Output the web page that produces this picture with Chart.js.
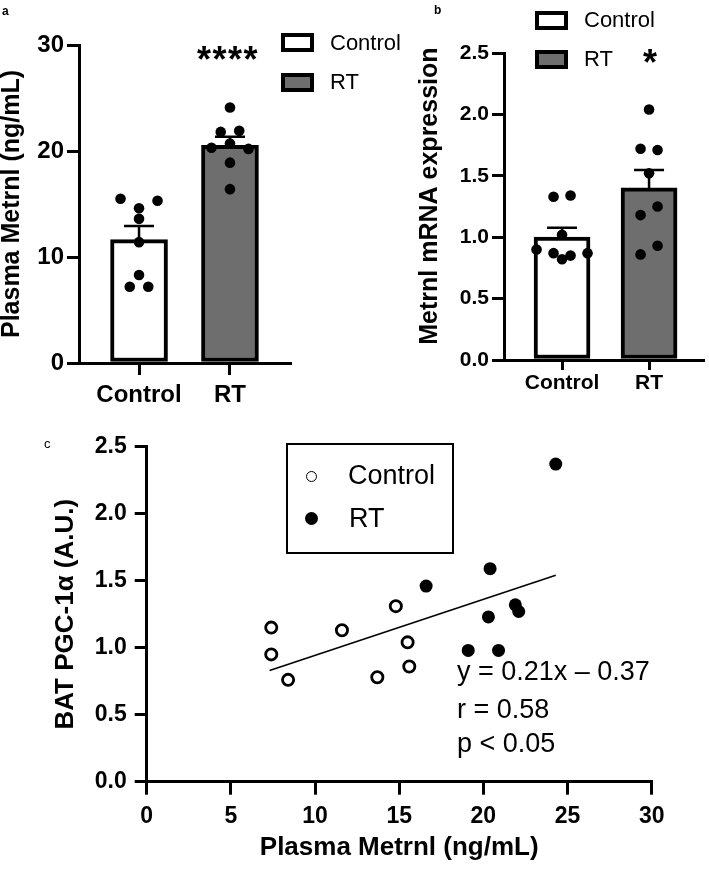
<!DOCTYPE html>
<html>
<head>
<meta charset="utf-8">
<script src="https://cdn.jsdelivr.net/npm/chart.js@4.4.1/dist/chart.umd.min.js"></script>
<style>
  body { margin: 0; width: 709px; height: 869px; position: relative; background: #fff; overflow: hidden;
         font-family: 'Liberation Sans', Arial, sans-serif; color: #000; }
  canvas { position: absolute; }
  .t { position: absolute; line-height: 1; white-space: nowrap; }
  .key { position: absolute; box-sizing: border-box; border: 4px solid #000; width: 33px; height: 19px; }
  .legend-c { position: absolute; box-sizing: border-box; border: 2.5px solid #000; left: 286px; top: 443px; width: 168px; height: 111px; }
  .dot { position: absolute; box-sizing: border-box; border-radius: 50%; }
</style>
</head>
<body>
<canvas id="chartA" width="355" height="410" style="left:0;top:0;width:355px;height:410px"></canvas>
<canvas id="chartB" width="354" height="410" style="left:355px;top:0;width:354px;height:410px"></canvas>
<canvas id="chartC" width="709" height="449" style="left:0;top:420px;width:709px;height:449px"></canvas>

<!-- panel letters -->
<div class="t" style="left:2px;top:5px;font-size:12px;font-weight:bold">a</div>
<div class="t" style="left:434px;top:4px;font-size:12px;font-weight:bold">b</div>
<div class="t" style="left:44px;top:437px;font-size:13px">c</div>

<!-- legend a -->
<div class="key" style="left:281px;top:33px;background:#fff"></div>
<div class="t" style="left:330px;top:32px;font-size:22px">Control</div>
<div class="key" style="left:281px;top:73px;background:#6e6e6e"></div>
<div class="t" style="left:330px;top:71px;font-size:22px">RT</div>
<div class="t" style="left:197px;top:42px;font-size:36px;font-weight:bold;letter-spacing:1.5px">****</div>

<!-- legend b -->
<div class="key" style="left:535px;top:11px;background:#fff"></div>
<div class="t" style="left:584px;top:9px;font-size:22px">Control</div>
<div class="key" style="left:535px;top:50px;background:#6e6e6e"></div>
<div class="t" style="left:584px;top:48px;font-size:22px">RT</div>
<div class="t" style="left:643px;top:45px;font-size:36px;font-weight:bold">*</div>

<!-- legend c and regression text -->
<div class="legend-c"></div>
<div class="dot" style="left:306px;top:471px;width:11px;height:11px;border:1.5px solid #000;background:#fff"></div>
<div class="dot" style="left:305px;top:512px;width:13px;height:13px;background:#000"></div>
<div class="t" style="left:348px;top:462px;font-size:27px">Control</div>
<div class="t" style="left:349px;top:505px;font-size:27px">RT</div>
<div class="t" style="left:457px;top:658px;font-size:27px">y = 0.21x – 0.37</div>
<div class="t" style="left:457px;top:696px;font-size:27px">r = 0.58</div>
<div class="t" style="left:457px;top:730px;font-size:27px">p &lt; 0.05</div>

<script>
const groups = ['Control', 'RT'];

// a: plasma Metrnl (ng/mL), one value per animal
const plasmaControl = [15.5, 14.6, 15.3, 13.6, 11.4, 8.3, 7.2, 7.2];
const plasmaRT = [24.1, 21.8, 21.9, 20.3, 20.7, 20.2, 18.9, 16.4];
const plasmaTicks = [0, 10, 20, 30];

// b: Metrnl mRNA expression
const mrnaControl = [1.33, 1.34, 1.02, 0.90, 0.87, 0.85, 0.87, 0.82];
const mrnaRT = [2.04, 1.72, 1.71, 1.52, 1.18, 1.25, 0.86, 0.93];
const mrnaTicks = [0, 0.5, 1.0, 1.5, 2.0, 2.5];

// c: plasma Metrnl vs BAT PGC-1a
const corrControlX = [7.4, 7.4, 8.4, 11.6, 13.7, 14.8, 15.5, 15.6];
const corrControlY = [1.15, 0.95, 0.76, 1.13, 0.78, 1.31, 1.04, 0.86];
const corrRTX = [24.3, 20.4, 16.6, 21.9, 22.1, 20.3, 19.1, 20.9];
const corrRTY = [2.37, 1.59, 1.46, 1.32, 1.27, 1.23, 0.98, 0.98];
const fitX = [7.3, 24.3];
const fitY = [0.83, 1.54];
const corrXTicks = [0, 5, 10, 15, 20, 25, 30];
const corrYTicks = [0, 0.5, 1.0, 1.5, 2.0, 2.5];

Chart.defaults.font.family = "'Liberation Sans', Arial, sans-serif";
Chart.defaults.color = '#000';
Chart.defaults.animation = false;

const mean = a => a.reduce((s, v) => s + v, 0) / a.length;
const sem = a => {
    const m = mean(a);
    const sd = Math.sqrt(a.reduce((s, v) => s + (v - m) * (v - m), 0) / (a.length - 1));
    return sd / Math.sqrt(a.length);
};

// spread dots that sit at about the same height side by side
function swarm(values, yScale, gap, step) {
    const py = values.map(v => yScale.getPixelForValue(v));
    const order = values.map((v, i) => i).sort((a, b) => py[a] - py[b]);
    const off = values.map(() => 0);
    let row = [];
    const flush = () => {
        row.sort((a, b) => a - b);
        row.forEach((k, j) => { off[k] = (j - (row.length - 1) / 2) * step; });
        row = [];
    };
    order.forEach(i => {
        if (row.length && py[i] - py[row[0]] >= gap) flush();
        row.push(i);
    });
    flush();
    return off;
}

function axisLine(tickLength) {
    return {
        grid: { display: true, drawOnChartArea: false, drawTicks: true, tickLength: tickLength,
                tickWidth: 3, tickColor: '#000', color: '#000', lineWidth: 3, offset: false },
        border: { display: true, color: '#000', width: 3 }
    };
}

function errorBarPlugin(sets) {
    return {
        id: 'errorBars',
        afterDatasetDraw(chart, args) {
            if (args.index !== 0) return;
            const { ctx, scales: { x, y } } = chart;
            ctx.save();
            ctx.strokeStyle = '#000';
            ctx.lineWidth = 2.5;
            sets.forEach((vals, i) => {
                const px = x.getPixelForValue(i + 1);
                const y0 = y.getPixelForValue(mean(vals));
                const y1 = y.getPixelForValue(mean(vals) + sem(vals));
                ctx.beginPath();
                ctx.moveTo(px, y0);
                ctx.lineTo(px, y1);
                ctx.moveTo(px - 15, y1);
                ctx.lineTo(px + 15, y1);
                ctx.stroke();
            });
            ctx.restore();
        }
    };
}

// bar + dot panel (a and b)
function barPanel(id, c) {
    const sets = c.sets;
    const chart = new Chart(document.getElementById(id), {
        type: 'bar',
        data: {
            datasets: [{
                type: 'bar',
                data: sets.map((vals, i) => ({ x: i + 1, y: mean(vals) })),
                backgroundColor: ['#ffffff', '#6e6e6e'],
                borderColor: '#000',
                borderWidth: 4,
                borderSkipped: false,
                barThickness: c.barWidth,
                order: 2
            }].concat(sets.map((vals, i) => ({
                type: 'scatter',
                data: vals.map(v => ({ x: i + 1, y: v })),
                pointRadius: 5.3,
                pointBackgroundColor: '#000',
                pointBorderWidth: 0,
                order: 1
            })))
        },
        options: {
            responsive: false,
            layout: { padding: c.padding },
            plugins: { legend: { display: false }, tooltip: { enabled: false } },
            scales: {
                x: Object.assign(axisLine(c.xTick), {
                    type: 'linear', min: c.xRange[0], max: c.xRange[1], offset: false,
                    afterBuildTicks: s => { s.ticks = groups.map((g, i) => ({ value: i + 1 })); },
                    afterFit: s => { s.height = c.xHeight; },
                    ticks: { callback: v => groups[v - 1], padding: c.xPad, maxRotation: 0,
                             font: { size: c.labelSize, weight: 'bold' } }
                }),
                y: Object.assign(axisLine(12), {
                    min: c.ticks[0], max: c.ticks[c.ticks.length - 1],
                    afterBuildTicks: s => { s.ticks = c.ticks.map(v => ({ value: v })); },
                    afterFit: s => { s.width = c.yWidth; },
                    ticks: { callback: c.fmt, padding: 3, font: { size: c.labelSize, weight: 'bold' } },
                    title: { display: true, text: c.title, padding: { top: c.titlePad, bottom: 0 },
                             font: { size: 25, weight: 'bold' } }
                })
            }
        },
        plugins: [errorBarPlugin(sets)]
    });

    const xs = chart.scales.x;
    const unit = xs.getPixelForValue(1) - xs.getPixelForValue(0);
    sets.forEach((vals, i) => {
        const off = swarm(vals, chart.scales.y, 9.7, c.step);
        chart.data.datasets[i + 1].data = vals.map((v, k) => ({ x: i + 1 + off[k] / unit, y: v }));
    });
    chart.update('none');
    return chart;
}

barPanel('chartA', {
    sets: [plasmaControl, plasmaRT],
    ticks: plasmaTicks,
    fmt: v => String(v),
    title: 'Plasma Metrnl (ng/mL)',
    titlePad: -3,
    padding: { left: 0, top: 45, right: 65, bottom: 0 },
    yWidth: 79, xHeight: 47,
    xRange: [0.34, 2.66],
    xTick: 12, xPad: 6,
    labelSize: 24,
    barWidth: 57,
    step: 18.5
});

// leading spaces lift the rotated title a little, as in the original
barPanel('chartB', {
    sets: [mrnaControl, mrnaRT],
    ticks: mrnaTicks,
    fmt: v => v.toFixed(1),
    title: '   Metrnl mRNA expression',
    titlePad: 0,
    padding: { left: 60, top: 53, right: 6, bottom: 0 },
    yWidth: 89, xHeight: 50,
    xRange: [0.333, 2.62],
    xTick: 10, xPad: 1,
    labelSize: 21,
    barWidth: 56,
    step: 17
});

// correlation panel (c)
new Chart(document.getElementById('chartC'), {
    type: 'scatter',
    data: {
        datasets: [{
            type: 'line',
            data: fitX.map((x, i) => ({ x: x, y: fitY[i] })),
            borderColor: '#000',
            borderWidth: 1.6,
            pointRadius: 0,
            fill: false,
            order: 3
        }, {
            data: corrControlX.map((x, i) => ({ x: x, y: corrControlY[i] })),
            pointRadius: 5.6,
            pointBorderWidth: 2.8,
            pointBackgroundColor: '#fff',
            pointBorderColor: '#000',
            order: 2
        }, {
            data: corrRTX.map((x, i) => ({ x: x, y: corrRTY[i] })),
            pointRadius: 6.5,
            pointBorderWidth: 0,
            pointBackgroundColor: '#000',
            order: 1
        }]
    },
    options: {
        responsive: false,
        layout: { padding: { left: 50, top: 26.7, right: 57.3, bottom: 0 } },
        plugins: { legend: { display: false }, tooltip: { enabled: false } },
        scales: {
            x: Object.assign(axisLine(13), {
                type: 'linear', min: corrXTicks[0], max: corrXTicks[corrXTicks.length - 1],
                afterBuildTicks: s => { s.ticks = corrXTicks.map(v => ({ value: v })); },
                afterFit: s => { s.height = 87.3; },
                ticks: { padding: 8, maxRotation: 0, font: { size: 23, weight: 'bold' } },
                title: { display: true, text: 'Plasma Metrnl (ng/mL)', padding: { top: 0, bottom: 6 },
                         font: { size: 26, weight: 'bold' } }
            }),
            y: Object.assign(axisLine(12), {
                min: corrYTicks[0], max: corrYTicks[corrYTicks.length - 1],
                afterBuildTicks: s => { s.ticks = corrYTicks.map(v => ({ value: v })); },
                afterFit: s => { s.width = 96.7; },
                ticks: { callback: v => v.toFixed(1), padding: 8, font: { size: 23, weight: 'bold' } },
                title: { display: true, text: 'BAT PGC-1α (A.U.)', padding: { top: 0, bottom: 0 },
                         font: { size: 26, weight: 'bold' } }
            })
        }
    }
});
</script>
</body>
</html>
